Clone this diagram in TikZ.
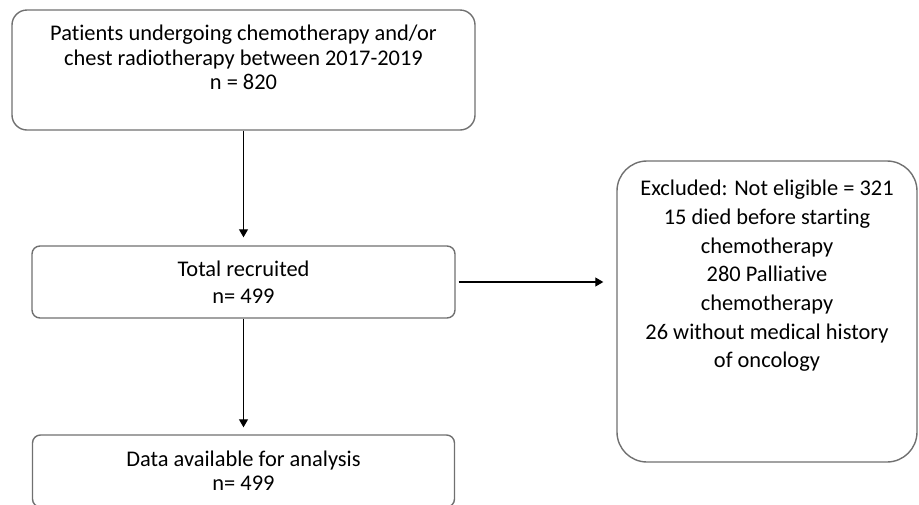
\documentclass[tikz,border=0pt]{standalone}
\usepackage{fontspec}
\setmainfont{Carlito}[Ligatures = NoCommon]
\usetikzlibrary{arrows.meta}
\definecolor{boxgray}{RGB}{112,112,112}
\tikzset{flowbox/.style = {draw = boxgray, line width = 1.4pt, align = center, inner sep = 0pt,
    font = \fontsize{22.4}{24.5}\selectfont},
  flowarrow/.style = {-{Triangle[length = 8pt, width = 9pt]}, line width = 1.1pt}}

\begin{document}
\begin{tikzpicture}[x = 1pt, y = -1pt]
\useasboundingbox (0,0) rectangle (919,504);
\node[flowbox, minimum width = 463pt, minimum height = 120pt, rounded corners = 15pt, text depth = 25pt] (patients) at (243.5,70)
  {Patients undergoing chemotherapy and/or\\ chest radiotherapy between 2017-2019\\ n = 820};
\node[flowbox, minimum width = 423pt, minimum height = 72pt, rounded corners = 8pt, font = \fontsize{22.4}{27}\selectfont] (total) at (243.5,282)
  {Total recruited\\ n= 499};
\node[flowbox, minimum width = 422pt, minimum height = 72pt, rounded corners = 8pt, font = \fontsize{22.4}{24}\selectfont] (data) at (243.5,471)
  {Data available for analysis\\ n= 499};
\node[flowbox, minimum width = 300pt, minimum height = 301pt, rounded corners = 30pt, text depth = 75pt, font = \fontsize{22.4}{28.7}\selectfont] (excl) at (767,311.5)
  {Excluded: Not eligible = 321\\ 15 died before starting\\ chemotherapy\\ 280 Palliative\\ chemotherapy\\ 26 without medical history\\ of oncology};
\draw[flowarrow, shorten > = 8pt] (patients.south) -- (total.north);
\draw[flowarrow, shorten > = 7pt] (total.south) -- (data.north);
\draw[flowarrow, shorten < = 3pt, shorten > = 13pt] (total.east) -- (total.east -| excl.west);
\end{tikzpicture}
\end{document}
